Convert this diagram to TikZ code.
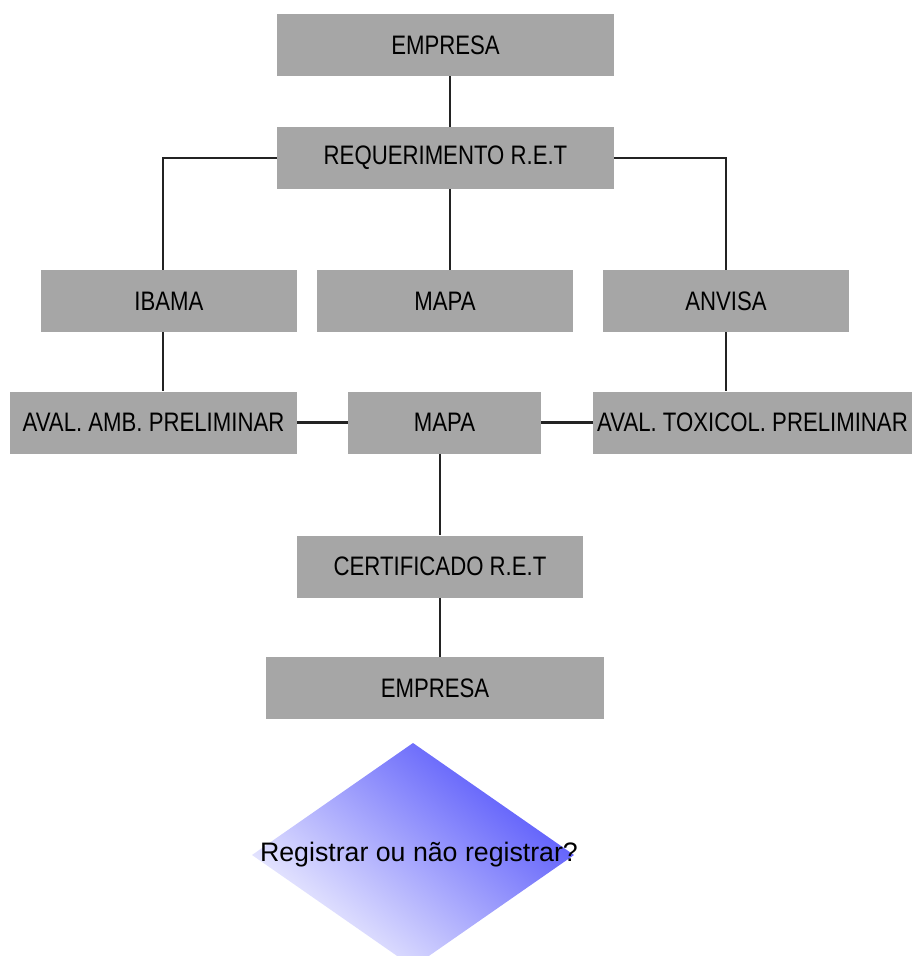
\documentclass[tikz,border=0pt]{standalone}
\usepackage{fontspec}
\setmainfont{Liberation Sans}
\newfontfamily\narrowfont{Liberation Sans}[FakeStretch=0.83]
\usepackage{xcolor}
\usetikzlibrary{positioning, calc}
\definecolor{boxgray}{RGB}{166, 166, 166}
\definecolor{linkgray}{RGB}{35, 35, 35}
\definecolor{diamondblue}{RGB}{82, 82, 250}
\definecolor{diamondpale}{RGB}{245, 245, 255}

\begin{document}
\begin{tikzpicture}[
    x=0.025cm, y=-0.025cm,
    stage/.style={fill=boxgray, minimum height=1.55cm, inner sep=0pt,
                  font=\narrowfont\fontsize{19}{22}\selectfont},
    link/.style={draw=linkgray, line width=1.8pt}
]
    \useasboundingbox (0,0) rectangle (912,956);
    \clip (0,0) rectangle (912,956);

    % ==================== REQUEST ====================
    \node[stage, minimum width=8.425cm] (empresa) at (445.5,45) {EMPRESA};
    \node[stage, minimum width=8.425cm] (requer) at (445.5,158) {REQUERIMENTO R.E.T};

    % ==================== AGENCIES ====================
    \node[stage, minimum width=6.4cm] (ibama) at (169,301) {IBAMA};
    \node[stage, minimum width=6.4cm] (mapa) at (445,301) {MAPA};
    \node[stage, minimum width=6.15cm] (anvisa) at (726,301) {ANVISA};

    % ==================== EVALUATIONS ====================
    \node[stage, minimum width=7.175cm] (avalamb) at (153.5,422.5) {AVAL. AMB. PRELIMINAR};
    \node[stage, minimum width=4.825cm] (mapaeval) at (444.5,422.5) {MAPA};
    \node[stage, minimum width=7.975cm] (avaltox) at (752.5,422.5) {AVAL. TOXICOL. PRELIMINAR};

    % ==================== RESULT ====================
    \node[stage, minimum width=7.15cm] (certif) at (440,566.5) {CERTIFICADO R.E.T};
    \node[stage, minimum width=8.45cm] (empresafim) at (435,688) {EMPRESA};

    % ==================== DECISION ====================
    \coordinate (decision) at (413,855);
    \path[top color=diamondblue, bottom color=diamondpale, shading angle=-40]
        ($(decision)+(0,-112)$) -- ($(decision)+(161,0)$)
        -- ($(decision)+(0,112)$) -- ($(decision)+(-161,0)$) -- cycle;
    \node[font=\fontsize{19}{22}\selectfont] (question) at (419,855) {Registrar ou não registrar?};

    % ==================== CONNECTIONS ====================
    \draw[link] ([xshift=0.1125cm]empresa.south) -- ([xshift=0.1125cm]requer.north);
    \draw[link] ([xshift=0.1125cm]requer.south) -- ([xshift=0.125cm]mapa.north);
    \draw[link] (requer.west) -| ([xshift=-0.15cm]ibama.north);
    \draw[link] (requer.east) -| (anvisa.north);
    \draw[link] ([xshift=-0.15cm]ibama.south) -- ([xshift=-0.15cm]ibama.south |- avalamb.north);
    \draw[link] (anvisa.south) -- (anvisa.south |- avaltox.north);
    \draw[link] (avalamb.east) -- (mapaeval.west);
    \draw[link] (mapaeval.east) -- (avaltox.west);
    \draw[link] (mapaeval.south -| certif.north) -- (certif.north);
    \draw[link] (certif.south) -- (certif.south |- empresafim.north);
\end{tikzpicture}
\end{document}
